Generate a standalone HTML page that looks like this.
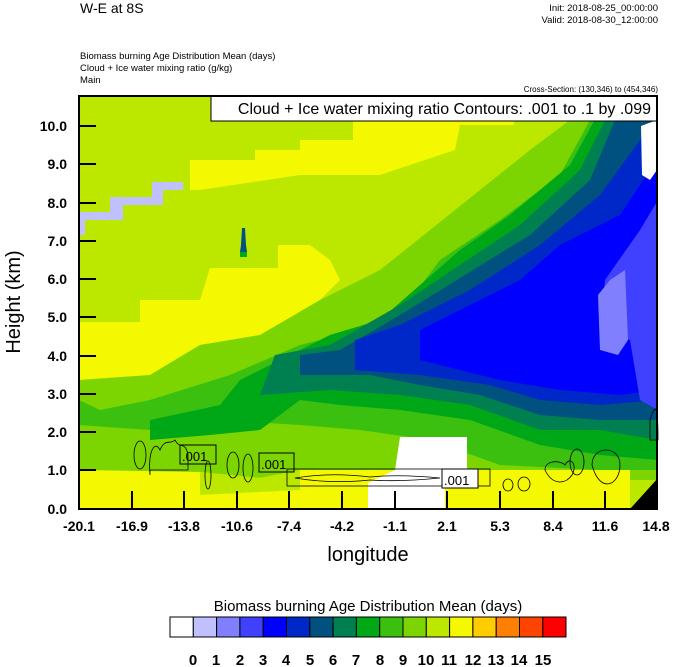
<!DOCTYPE html>
<html><head><meta charset="utf-8"><style>
body{margin:0;background:#fff;}
svg{display:block;font-family:"Liberation Sans",Arial,sans-serif;}
</style></head><body>
<svg width="674" height="667" viewBox="0 0 674 667" xmlns="http://www.w3.org/2000/svg">
<rect width="674" height="667" fill="#fff"/>
<text x="80" y="13" font-size="14">W-E at 8S</text>
<text x="658" y="11" font-size="9.5" text-anchor="end">Init: 2018-08-25_00:00:00</text>
<text x="658" y="23" font-size="9.5" text-anchor="end">Valid: 2018-08-30_12:00:00</text>
<text x="80" y="59" font-size="9.5">Biomass burning Age Distribution Mean   (days)</text>
<text x="80" y="71" font-size="9.5">Cloud + Ice water mixing ratio   (g/kg)</text>
<text x="80" y="83" font-size="9.5">Main</text>
<text x="658" y="92" font-size="8" text-anchor="end">Cross-Section: (130,346) to (454,346)</text>
<defs><clipPath id="c"><rect x="79" y="96" width="578" height="413"/></clipPath></defs>
<g clip-path="url(#c)">
<rect x="79" y="96" width="578" height="413" fill="#bce800"/>
<polygon fill="#f4f800" points="190,160 255,160 255,150 300,150 300,140 353,140 353,96 514,96 514,125 460,125 455,150 380,175 300,175 200,190 190,190"/>
<polygon fill="#f4f800" points="79,322 140,322 140,300 200,300 210,268 278,268 278,245 310,245 330,260 340,280 320,300 260,335 200,345 150,375 79,388"/>
<polygon fill="#7cd400" points="79,380 150,375 200,345 260,335 320,300 380,270 430,230 480,190 530,150 570,120 600,96 658,96 658,480 79,480"/>
<polygon fill="#3cc010" points="79,400 100,410 150,400 230,375 300,345 360,330 410,300 440,260 500,220 560,175 590,120 610,96 658,96 658,470 600,470 500,465 430,440 360,430 300,425 220,420 150,430 79,425"/>
<polygon fill="#00a818" points="150,420 220,405 240,380 280,360 330,335 380,320 420,285 460,250 510,215 570,165 600,110 620,96 658,96 658,460 600,455 540,445 470,420 400,410 340,405 300,400 260,430 210,435 150,440"/>
<polygon fill="#008050" points="260,395 275,355 330,345 400,305 460,265 520,225 580,170 610,110 625,96 658,96 658,440 600,430 540,430 470,405 400,395 330,390"/>
<polygon fill="#005080" points="300,375 300,355 340,350 400,315 465,275 530,235 590,180 615,120 635,96 658,96 658,420 600,420 540,415 480,395 420,385 370,375"/>
<polygon fill="#0028c8" points="355,370 355,340 400,325 470,290 540,245 600,195 640,140 658,110 658,400 600,405 540,400 490,385 420,375"/>
<polygon fill="#0000ff" points="420,360 420,330 470,305 520,280 560,245 620,215 650,170 658,150 658,390 620,395 560,390 500,380 460,370"/>
<polygon fill="#4040ff" points="600,330 605,280 640,230 658,200 658,410 640,400 630,340"/>
<polygon fill="#8080ff" points="598,295 610,280 625,270 628,340 618,355 600,350"/>
<polygon fill="#fff" points="641,126 657,120 657,170 650,180 642,175"/>
<polygon fill="#c0c0ff" points="79,212 110,212 110,197 152,197 152,182 183,182 183,190 163,190 163,205 123,205 123,220 85,220 85,235 79,235"/>
<polygon fill="#005080" points="242,228 245,228 246,245 247,252 240,252 241,245"/>
<rect x="240" y="252" width="7" height="5" fill="#00a818"/>
<polygon fill="#f4f800" points="79,470 200,472 260,478 300,470 370,470 480,470 630,470 630,509 79,509"/>
<polygon fill="#bce800" points="200,472 260,478 300,470 300,490 200,495"/>
<polygon fill="#fff" points="400,437 467,437 467,470 445,470 445,509 368,509 368,483 395,470"/>
<polygon fill="#000" points="630,509 658,478 658,509"/>
</g>
<g fill="none" stroke="#000" stroke-width="0.8">
<ellipse cx="140" cy="455" rx="6" ry="14"/>
<path d="M150,475 C148,450 155,440 160,450 C165,438 170,445 175,440 C180,450 185,440 188,455 L188,470 L150,470 Z"/>
<ellipse cx="208" cy="475" rx="3" ry="14"/>
<ellipse cx="233" cy="465" rx="6" ry="13"/>
<ellipse cx="248" cy="468" rx="5" ry="14"/>
<rect x="287" y="469" width="203" height="17"/>
<path d="M295,478 Q330,472 370,477 Q400,474 440,478 Q400,482 370,480 Q330,484 295,478"/>
<ellipse cx="508" cy="485" rx="5" ry="6"/>
<ellipse cx="524" cy="484" rx="6" ry="7"/>
<path d="M545,470 C545,460 560,460 565,465 C570,455 578,465 572,475 C565,485 552,485 545,470 Z"/>
<ellipse cx="577" cy="462" rx="7" ry="13"/>
<path d="M592,465 C592,445 620,445 620,465 C620,485 600,495 592,465 Z"/>
<path d="M650,420 C655,405 658,400 658,440 L650,440 Z"/>
</g>
<g font-size="13" fill="#000">
<rect x="180" y="445" width="36" height="19" fill="none" stroke="#000"/>
<text x="182" y="461">.001</text>
<rect x="259" y="453" width="35" height="19" fill="none" stroke="#000"/>
<text x="261" y="469">.001</text>
<rect x="442" y="469" width="36" height="19" fill="#fff" stroke="#000"/>
<text x="444" y="485">.001</text>
</g>
<rect x="211" y="96" width="446" height="25" fill="#fff" stroke="#000" stroke-width="1"/>
<text x="651" y="114" font-size="16" text-anchor="end">Cloud + Ice water mixing ratio Contours: .001 to .1 by .099</text>
<rect x="79" y="96" width="578" height="413" fill="none" stroke="#000" stroke-width="2"/>
<g stroke="#000" stroke-width="2">
<line x1="79" y1="126" x2="96" y2="126"/><line x1="79" y1="164" x2="96" y2="164"/><line x1="79" y1="203" x2="96" y2="203"/><line x1="79" y1="241" x2="96" y2="241"/><line x1="79" y1="279" x2="96" y2="279"/><line x1="79" y1="317" x2="96" y2="317"/><line x1="79" y1="356" x2="96" y2="356"/><line x1="79" y1="394" x2="96" y2="394"/><line x1="79" y1="432" x2="96" y2="432"/><line x1="79" y1="470" x2="96" y2="470"/>
<line x1="132" y1="509" x2="132" y2="491"/><line x1="184" y1="509" x2="184" y2="491"/><line x1="237" y1="509" x2="237" y2="491"/><line x1="289" y1="509" x2="289" y2="491"/><line x1="342" y1="509" x2="342" y2="491"/><line x1="395" y1="509" x2="395" y2="491"/><line x1="447" y1="509" x2="447" y2="491"/><line x1="500" y1="509" x2="500" y2="491"/><line x1="553" y1="509" x2="553" y2="491"/><line x1="605" y1="509" x2="605" y2="491"/>
</g>
<g font-size="14" font-weight="bold" text-anchor="end">
<text x="67" y="131">10.0</text><text x="67" y="169">9.0</text><text x="67" y="208">8.0</text><text x="67" y="246">7.0</text><text x="67" y="284">6.0</text><text x="67" y="322">5.0</text><text x="67" y="361">4.0</text><text x="67" y="399">3.0</text><text x="67" y="437">2.0</text><text x="67" y="475">1.0</text><text x="67" y="514">0.0</text>
</g>
<g font-size="14" font-weight="bold" text-anchor="middle">
<text x="79" y="531">-20.1</text><text x="132" y="531">-16.9</text><text x="184" y="531">-13.8</text><text x="237" y="531">-10.6</text><text x="289" y="531">-7.4</text><text x="342" y="531">-4.2</text><text x="395" y="531">-1.1</text><text x="447" y="531">2.1</text><text x="500" y="531">5.3</text><text x="553" y="531">8.4</text><text x="605" y="531">11.6</text><text x="656" y="531">14.8</text>
</g>
<text x="368" y="561" font-size="20" text-anchor="middle">longitude</text>
<text transform="translate(20,302) rotate(-90)" font-size="20" text-anchor="middle">Height (km)</text>
<text x="368" y="611" font-size="15" text-anchor="middle">Biomass burning Age Distribution Mean  (days)</text>
<g stroke="#000" stroke-width="1">
<rect x="170" y="617" width="23.3" height="20" fill="#fff"/>
<rect x="193.3" y="617" width="23.3" height="20" fill="#c0c0ff"/>
<rect x="216.6" y="617" width="23.3" height="20" fill="#8080ff"/>
<rect x="239.9" y="617" width="23.3" height="20" fill="#4040ff"/>
<rect x="263.2" y="617" width="23.3" height="20" fill="#0000ff"/>
<rect x="286.5" y="617" width="23.3" height="20" fill="#0028c8"/>
<rect x="309.8" y="617" width="23.3" height="20" fill="#005080"/>
<rect x="333.1" y="617" width="23.3" height="20" fill="#008050"/>
<rect x="356.4" y="617" width="23.3" height="20" fill="#00a818"/>
<rect x="379.7" y="617" width="23.3" height="20" fill="#3cc010"/>
<rect x="403" y="617" width="23.3" height="20" fill="#7cd400"/>
<rect x="426.3" y="617" width="23.3" height="20" fill="#bce800"/>
<rect x="449.6" y="617" width="23.3" height="20" fill="#f4f800"/>
<rect x="472.9" y="617" width="23.3" height="20" fill="#ffcc00"/>
<rect x="496.2" y="617" width="23.3" height="20" fill="#ff8000"/>
<rect x="519.5" y="617" width="23.3" height="20" fill="#ff4400"/>
<rect x="542.8" y="617" width="23.2" height="20" fill="#ff0000"/>
</g>
<g font-size="15" font-weight="bold" text-anchor="middle">
<text x="193" y="665">0</text><text x="216" y="665">1</text><text x="240" y="665">2</text><text x="263" y="665">3</text><text x="286" y="665">4</text><text x="310" y="665">5</text><text x="333" y="665">6</text><text x="356" y="665">7</text><text x="380" y="665">8</text><text x="403" y="665">9</text><text x="426" y="665">10</text><text x="449" y="665">11</text><text x="473" y="665">12</text><text x="496" y="665">13</text><text x="519" y="665">14</text><text x="543" y="665">15</text>
</g>
</svg>
</body></html>
